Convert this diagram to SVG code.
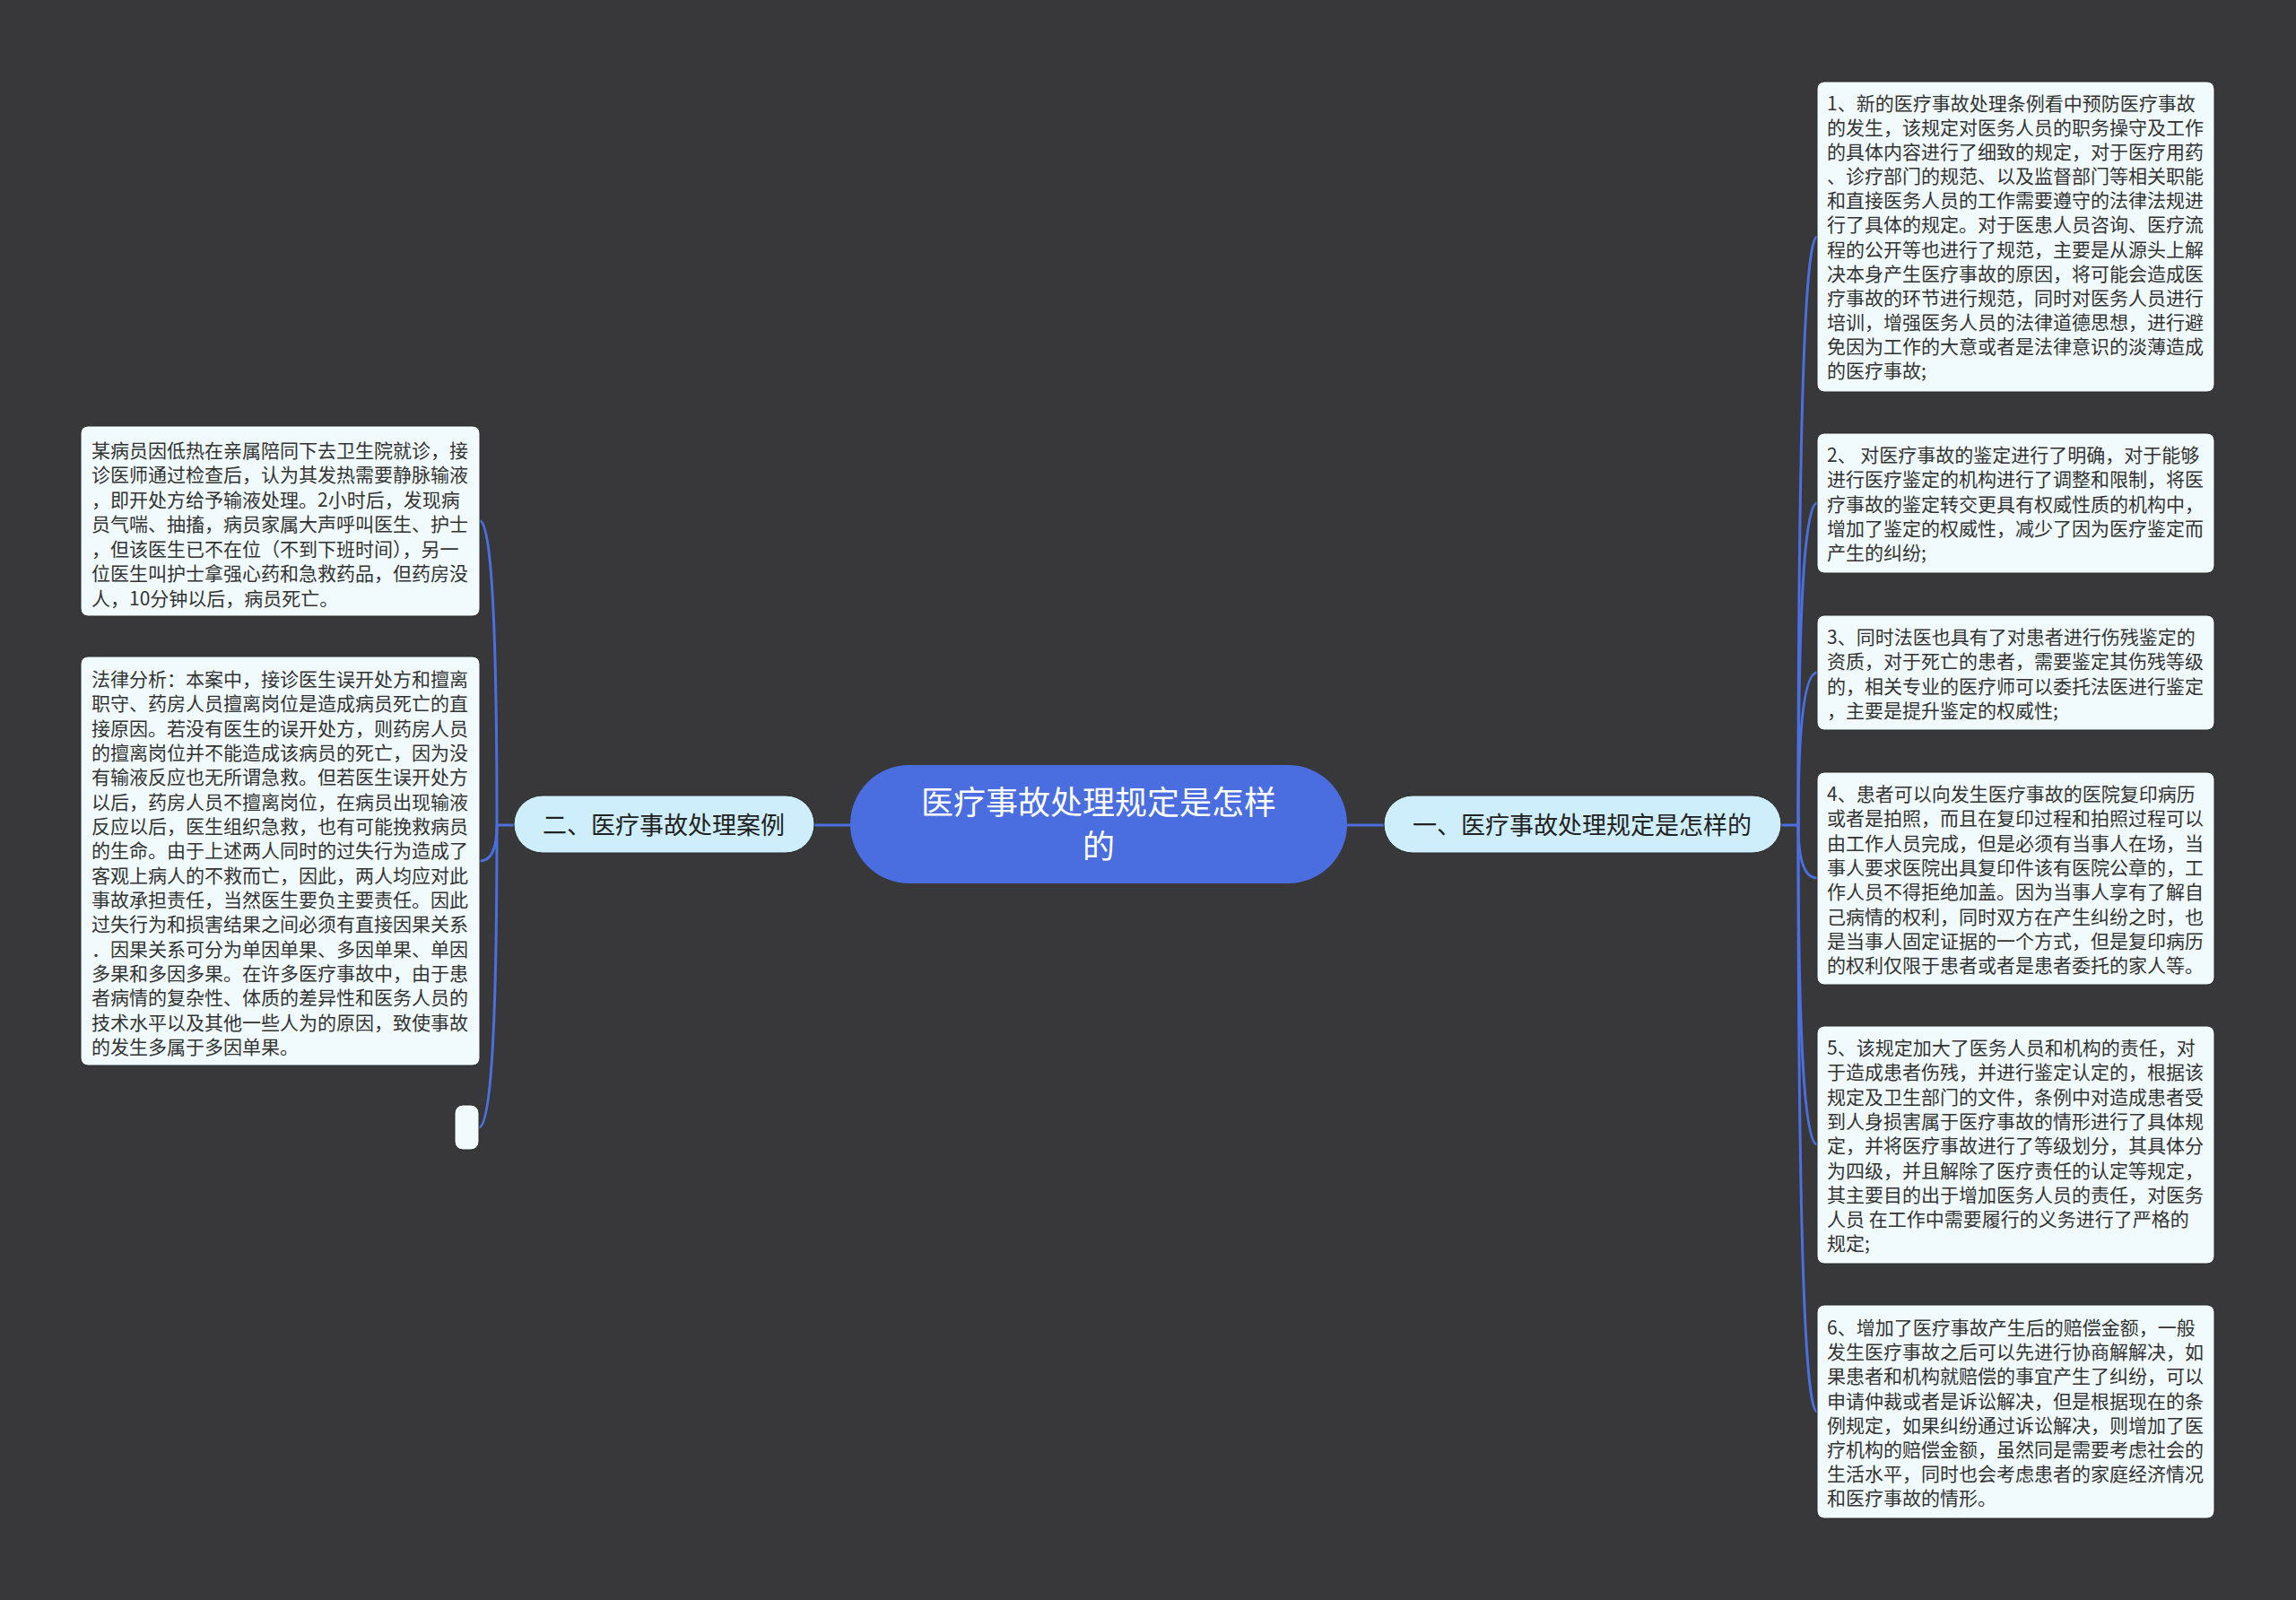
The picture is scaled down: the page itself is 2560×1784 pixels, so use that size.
<svg xmlns="http://www.w3.org/2000/svg" width="2560" height="1784" viewBox="0 0 2560 1784">
<style>
.bg{fill:#38383a}
.conn{fill:none;stroke:#4c6fdf;stroke-width:3}
.leaf rect{fill:#f1fbfd;stroke:#2a2a2a;stroke-width:1}
.leaf text{font-family:"Noto Sans CJK SC","Noto Sans",sans-serif;font-size:21px;fill:#333333}
.branch rect{fill:#cdeefa;stroke:#2a2a2a;stroke-width:1}
.branch text{font-family:"Noto Sans CJK SC","Noto Sans",sans-serif;font-size:27px;fill:#222222;text-anchor:middle}
.root rect{fill:#4a6ee0}
.root text{font-family:"Noto Sans CJK SC","Noto Sans",sans-serif;font-size:36px;fill:#ffffff;text-anchor:middle}
</style>
<rect class="bg" x="0" y="0" width="2560" height="1784"/>
<g id="connectors">
<path class="conn" d="M1502 920 H1543"/>
<path class="conn" d="M908 920 H948"/>
<path class="conn" d="M1986 920 H2005"/>
<path class="conn" d="M2005 920 Q2005 264 2026 264"/>
<path class="conn" d="M2005 920 Q2005 561 2026 561"/>
<path class="conn" d="M2005 920 Q2005 750 2026 750"/>
<path class="conn" d="M2005 920 Q2005 979 2026 979"/>
<path class="conn" d="M2005 920 Q2005 1276 2026 1276"/>
<path class="conn" d="M2005 920 Q2005 1574 2026 1574"/>
<path class="conn" d="M573 920 H554"/>
<path class="conn" d="M554 920 Q554 581 535 581"/>
<path class="conn" d="M554 920 Q554 960 535 960"/>
<path class="conn" d="M554 920 Q554 1257 534 1257"/>
</g>
<g id="root" class="root">
<rect x="948" y="853" width="554" height="132" rx="66"/>
<text x="1225" y="908">医疗事故处理规定是怎样</text>
<text x="1225" y="957">的</text>
</g>
<g id="branch-right" class="branch">
<rect x="1543" y="887" width="443" height="64" rx="32"/>
<text x="1764" y="930">一、医疗事故处理规定是怎样的</text>
</g>
<g id="branch-left" class="branch">
<rect x="573" y="887" width="335" height="64" rx="32"/>
<text x="740" y="930">二、医疗事故处理案例</text>
</g>
<g id="left-1" class="leaf">
<rect x="90" y="475" width="445" height="212" rx="8"/>
<text x="102" y="510">某病员因低热在亲属陪同下去卫生院就诊，接</text>
<text x="102" y="537">诊医师通过检查后，认为其发热需要静脉输液</text>
<text x="102" y="565">，即开处方给予输液处理。2小时后，发现病</text>
<text x="102" y="592">员气喘、抽搐，病员家属大声呼叫医生、护士</text>
<text x="102" y="620">，但该医生已不在位（不到下班时间），另一</text>
<text x="102" y="647">位医生叫护士拿强心药和急救药品，但药房没</text>
<text x="102" y="675">人，10分钟以后，病员死亡。</text>
</g>
<g id="left-2" class="leaf">
<rect x="90" y="732" width="445" height="456" rx="8"/>
<text x="102" y="765">法律分析：本案中，接诊医生误开处方和擅离</text>
<text x="102" y="792">职守、药房人员擅离岗位是造成病员死亡的直</text>
<text x="102" y="820">接原因。若没有医生的误开处方，则药房人员</text>
<text x="102" y="847">的擅离岗位并不能造成该病员的死亡，因为没</text>
<text x="102" y="874">有输液反应也无所谓急救。但若医生误开处方</text>
<text x="102" y="902">以后，药房人员不擅离岗位，在病员出现输液</text>
<text x="102" y="929">反应以后，医生组织急救，也有可能挽救病员</text>
<text x="102" y="956">的生命。由于上述两人同时的过失行为造成了</text>
<text x="102" y="984">客观上病人的不救而亡，因此，两人均应对此</text>
<text x="102" y="1011">事故承担责任，当然医生要负主要责任。因此</text>
<text x="102" y="1038">过失行为和损害结果之间必须有直接因果关系</text>
<text x="102" y="1066">．因果关系可分为单因单果、多因单果、单因</text>
<text x="102" y="1093">多果和多因多果。在许多医疗事故中，由于患</text>
<text x="102" y="1120">者病情的复杂性、体质的差异性和医务人员的</text>
<text x="102" y="1148">技术水平以及其他一些人为的原因，致使事故</text>
<text x="102" y="1175">的发生多属于多因单果。</text>
</g>
<g id="left-3" class="leaf">
<rect x="507" y="1232" width="27" height="50" rx="9"/>
</g>
<g id="right-1" class="leaf">
<rect x="2026" y="91" width="443" height="346" rx="8"/>
<text x="2037" y="123">1、新的医疗事故处理条例看中预防医疗事故</text>
<text x="2037" y="150">的发生，该规定对医务人员的职务操守及工作</text>
<text x="2037" y="177">的具体内容进行了细致的规定，对于医疗用药</text>
<text x="2037" y="204">、诊疗部门的规范、以及监督部门等相关职能</text>
<text x="2037" y="231">和直接医务人员的工作需要遵守的法律法规进</text>
<text x="2037" y="258">行了具体的规定。对于医患人员咨询、医疗流</text>
<text x="2037" y="286">程的公开等也进行了规范，主要是从源头上解</text>
<text x="2037" y="313">决本身产生医疗事故的原因，将可能会造成医</text>
<text x="2037" y="340">疗事故的环节进行规范，同时对医务人员进行</text>
<text x="2037" y="367">培训，增强医务人员的法律道德思想，进行避</text>
<text x="2037" y="394">免因为工作的大意或者是法律意识的淡薄造成</text>
<text x="2037" y="421">的医疗事故;</text>
</g>
<g id="right-2" class="leaf">
<rect x="2026" y="483" width="443" height="156" rx="8"/>
<text x="2037" y="515">2、 对医疗事故的鉴定进行了明确，对于能够</text>
<text x="2037" y="542">进行医疗鉴定的机构进行了调整和限制，将医</text>
<text x="2037" y="570">疗事故的鉴定转交更具有权威性质的机构中，</text>
<text x="2037" y="597">增加了鉴定的权威性，减少了因为医疗鉴定而</text>
<text x="2037" y="624">产生的纠纷;</text>
</g>
<g id="right-3" class="leaf">
<rect x="2026" y="686" width="443" height="128" rx="8"/>
<text x="2037" y="718">3、同时法医也具有了对患者进行伤残鉴定的</text>
<text x="2037" y="745">资质，对于死亡的患者，需要鉴定其伤残等级</text>
<text x="2037" y="773">的，相关专业的医疗师可以委托法医进行鉴定</text>
<text x="2037" y="800">，主要是提升鉴定的权威性;</text>
</g>
<g id="right-4" class="leaf">
<rect x="2026" y="861" width="443" height="237" rx="8"/>
<text x="2037" y="893">4、患者可以向发生医疗事故的医院复印病历</text>
<text x="2037" y="920">或者是拍照，而且在复印过程和拍照过程可以</text>
<text x="2037" y="948">由工作人员完成，但是必须有当事人在场，当</text>
<text x="2037" y="975">事人要求医院出具复印件该有医院公章的，工</text>
<text x="2037" y="1002">作人员不得拒绝加盖。因为当事人享有了解自</text>
<text x="2037" y="1030">己病情的权利，同时双方在产生纠纷之时，也</text>
<text x="2037" y="1057">是当事人固定证据的一个方式，但是复印病历</text>
<text x="2037" y="1084">的权利仅限于患者或者是患者委托的家人等。</text>
</g>
<g id="right-5" class="leaf">
<rect x="2026" y="1144" width="443" height="265" rx="8"/>
<text x="2037" y="1176">5、该规定加大了医务人员和机构的责任，对</text>
<text x="2037" y="1203">于造成患者伤残，并进行鉴定认定的，根据该</text>
<text x="2037" y="1231">规定及卫生部门的文件，条例中对造成患者受</text>
<text x="2037" y="1258">到人身损害属于医疗事故的情形进行了具体规</text>
<text x="2037" y="1285">定，并将医疗事故进行了等级划分，其具体分</text>
<text x="2037" y="1313">为四级，并且解除了医疗责任的认定等规定，</text>
<text x="2037" y="1340">其主要目的出于增加医务人员的责任，对医务</text>
<text x="2037" y="1367">人员 在工作中需要履行的义务进行了严格的</text>
<text x="2037" y="1394">规定;</text>
</g>
<g id="right-6" class="leaf">
<rect x="2026" y="1455" width="443" height="238" rx="8"/>
<text x="2037" y="1488">6、增加了医疗事故产生后的赔偿金额，一般</text>
<text x="2037" y="1515">发生医疗事故之后可以先进行协商解解决，如</text>
<text x="2037" y="1542">果患者和机构就赔偿的事宜产生了纠纷，可以</text>
<text x="2037" y="1570">申请仲裁或者是诉讼解决，但是根据现在的条</text>
<text x="2037" y="1597">例规定，如果纠纷通过诉讼解决，则增加了医</text>
<text x="2037" y="1624">疗机构的赔偿金额，虽然同是需要考虑社会的</text>
<text x="2037" y="1651">生活水平，同时也会考虑患者的家庭经济情况</text>
<text x="2037" y="1678">和医疗事故的情形。</text>
</g>
</svg>
